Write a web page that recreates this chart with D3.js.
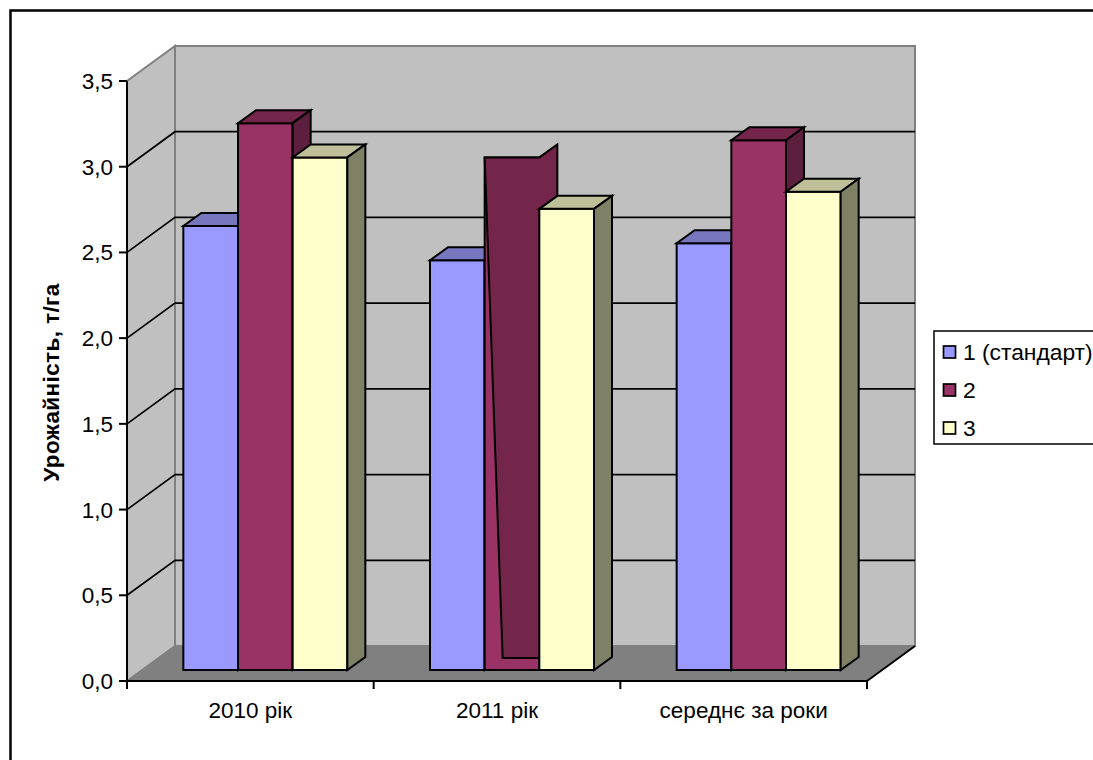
<!DOCTYPE html>
<html>
<head>
<meta charset="utf-8">
<script src="https://cdn.jsdelivr.net/npm/d3@7/dist/d3.min.js"></script>
<style>
  html, body { margin: 0; padding: 0; background: #fff; overflow: hidden; }
  svg { display: block; }
  text { font-family: "Liberation Sans", Arial, sans-serif; fill: #000; }
</style>
</head>
<body>
<svg id="chart" width="1093" height="760"></svg>
<script>
// Yield by year for three variants, drawn as a pseudo-3D clustered column chart.
const categories = ["2010 рік", "2011 рік", "середнє за роки"];
const seriesNames = ["1 (стандарт)", "2", "3"];
const series1 = [2.59, 2.39, 2.49];
const series2 = [3.19, 2.99, 3.09];
const series3 = [2.99, 2.69, 2.79];
const seriesValues = [series1, series2, series3];
const yTicks = [0, 0.5, 1, 1.5, 2, 2.5, 3, 3.5];
const yAxisTitle = "Урожайність, т/га";

const faceColors = ["#9999ff", "#993366", "#ffffcc"];
const topColors = ["#7777bf", "#732649", "#bfbf99"];
const sideColors = ["#7777bf", "#5c1f3d", "#808066"];

const svg = d3.select("#chart");

// Front plane of the plot box and the depth of its walls.
const plotLeft = 127, plotRight = 867, plotBottom = 681, plotTop = 81;
const wallDx = 48, wallDy = -35;
const barDx = 18, barDy = -13;
const offDx = (wallDx - barDx) / 2, offDy = (wallDy - barDy) / 2;
const labelSize = 22.5;

const x0 = d3.scaleBand().domain(categories).range([plotLeft, plotRight]);
const groupWidth = 164;
const x1 = d3.scaleBand().domain(d3.range(seriesNames.length))
  .range([(x0.bandwidth() - groupWidth) / 2, (x0.bandwidth() + groupWidth) / 2]);
const y = d3.scaleLinear().domain([0, 3.5]).range([plotBottom, plotTop]);

const poly = (pts, fill, stroke, sw) => svg.append("polygon")
  .attr("points", pts.map(p => p.join(",")).join(" "))
  .attr("fill", fill).attr("stroke", stroke).attr("stroke-width", sw)
  .attr("stroke-linejoin", "miter");

// Outer chart frame, running off the right and bottom edges.
svg.append("rect").attr("x", 10.5).attr("y", 10.5).attr("width", 1200).attr("height", 1000)
  .attr("fill", "#fff").attr("stroke", "#000").attr("stroke-width", 2.5);

// Walls and floor.
poly([[plotLeft, plotBottom], [plotLeft + wallDx, plotBottom + wallDy], [plotLeft + wallDx, plotTop + wallDy], [plotLeft, plotTop]], "#c0c0c0", "#808080", 2);
poly([[plotLeft + wallDx, plotBottom + wallDy], [plotRight + wallDx, plotBottom + wallDy], [plotRight + wallDx, plotTop + wallDy], [plotLeft + wallDx, plotTop + wallDy]], "#c0c0c0", "#808080", 2);
poly([[plotLeft, plotBottom], [plotRight, plotBottom], [plotRight + wallDx, plotBottom + wallDy], [plotLeft + wallDx, plotBottom + wallDy]], "#808080", "#808080", 1);

// Gridlines follow the left wall and then the back wall.
yTicks.filter(t => t > 0 && t < 3.5).forEach(t => {
  svg.append("polyline")
    .attr("points", `${plotLeft},${y(t)} ${plotLeft + wallDx},${y(t) + wallDy} ${plotRight + wallDx},${y(t) + wallDy}`)
    .attr("fill", "none").attr("stroke", "#000").attr("stroke-width", 1.7);
});

// Right edge of the floor.
svg.append("line").attr("x1", plotRight).attr("y1", plotBottom)
  .attr("x2", plotRight + wallDx).attr("y2", plotBottom + wallDy)
  .attr("stroke", "#000").attr("stroke-width", 2);

// Columns.
categories.forEach((cat, c) => {
  seriesNames.forEach((name, s) => {
    const v = seriesValues[s][c];
    const xl = x0(cat) + x1(s) + offDx;
    const xr = xl + x1.bandwidth();
    const yb = y(0) + offDy;
    const yt = y(v) + offDy;
    const sw = 2;
    poly([[xl, yb], [xr, yb], [xr, yt], [xl, yt]], faceColors[s], "#000", sw);
    if (c === 1 && s === 1) {
      // The middle column of 2011 has its rear face folded over the front one.
      poly([[xl, yt], [xr, yt], [xr + barDx, yt + barDy], [xr + barDx, yb + barDy],
            [xr, yb + barDy + 1], [xl + barDx, yb + barDy + 1]], topColors[1], "#000", sw);
    } else {
      poly([[xl, yt], [xr, yt], [xr + barDx, yt + barDy], [xl + barDx, yt + barDy]], topColors[s], "#000", sw);
      poly([[xr, yt], [xr + barDx, yt + barDy], [xr + barDx, yb + barDy], [xr, yb]], sideColors[s], "#000", sw);
    }
  });
});

// Value axis.
const yAxis = svg.append("g");
yAxis.append("line").attr("x1", plotLeft).attr("x2", plotLeft).attr("y1", plotTop).attr("y2", plotBottom + 8)
  .attr("stroke", "#000").attr("stroke-width", 2);
yTicks.forEach(t => {
  yAxis.append("line").attr("x1", plotLeft - 8).attr("x2", plotLeft).attr("y1", y(t)).attr("y2", y(t))
    .attr("stroke", "#000").attr("stroke-width", 2);
  yAxis.append("text").attr("x", plotLeft - 14).attr("y", y(t) + 8)
    .attr("text-anchor", "end").attr("font-size", labelSize)
    .text(t.toFixed(1).replace(".", ","));
});

// Category axis.
const xAxis = svg.append("g");
xAxis.append("line").attr("x1", plotLeft).attr("x2", plotRight).attr("y1", plotBottom).attr("y2", plotBottom)
  .attr("stroke", "#000").attr("stroke-width", 2);
[...categories.map(c => x0(c)), plotRight].forEach(p => {
  xAxis.append("line").attr("x1", p).attr("x2", p).attr("y1", plotBottom).attr("y2", plotBottom + 8)
    .attr("stroke", "#000").attr("stroke-width", 2);
});
categories.forEach(c => {
  xAxis.append("text").attr("x", x0(c) + x0.bandwidth() / 2).attr("y", 718)
    .attr("text-anchor", "middle").attr("font-size", labelSize).text(c);
});

// Axis title.
svg.append("text").attr("transform", "translate(58.5,382.5) rotate(-90)")
  .attr("text-anchor", "middle").attr("font-size", labelSize).attr("font-weight", "bold")
  .attr("letter-spacing", 0.4).text(yAxisTitle);

// Legend, clipped by the right edge of the page.
svg.append("rect").attr("x", 934).attr("y", 331).attr("width", 200).attr("height", 113)
  .attr("fill", "#fff").attr("stroke", "#000").attr("stroke-width", 1.5);
const legendY = d3.scalePoint().domain(seriesNames).range([352, 428]);
seriesNames.forEach((name, s) => {
  svg.append("rect").attr("x", 943.5).attr("y", legendY(name) - 6).attr("width", 12).attr("height", 12)
    .attr("fill", faceColors[s]).attr("stroke", "#000").attr("stroke-width", 1.7);
  svg.append("text").attr("x", 963).attr("y", legendY(name) + 8).attr("font-size", 22.8).text(name);
});
</script>
</body>
</html>
